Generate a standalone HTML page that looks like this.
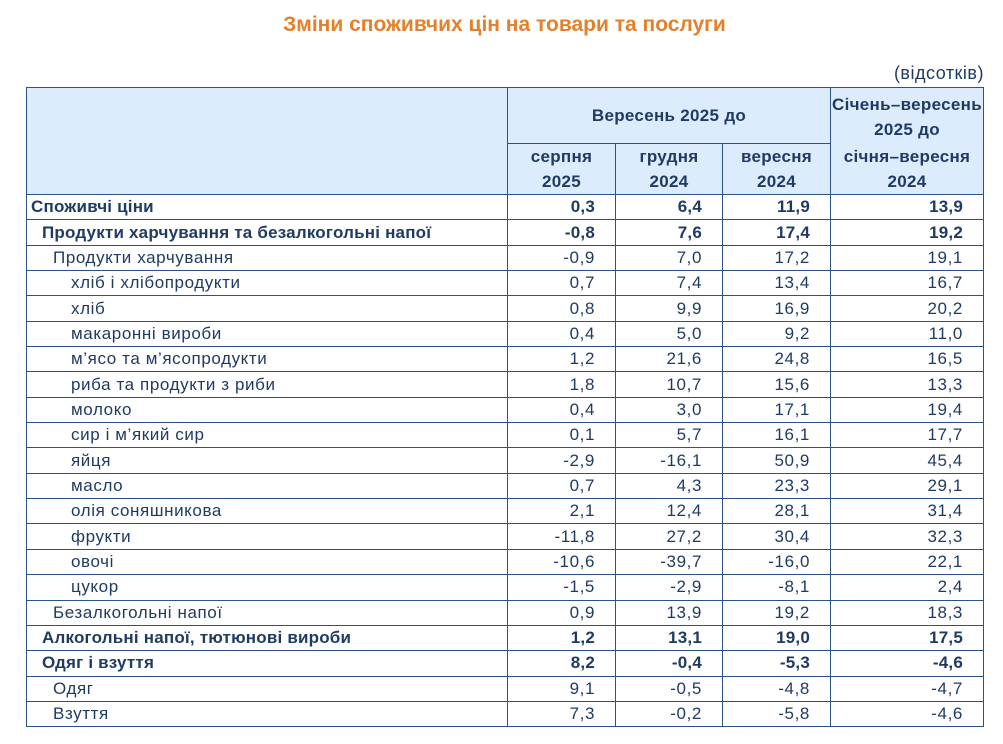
<!DOCTYPE html>
<html><head><meta charset="utf-8"><style>
body{margin:0;width:1003px;height:744px;background:#fff;font-family:"Liberation Sans",sans-serif;color:#1f3b63;position:relative;overflow:hidden}
.t{position:absolute;top:13px;left:3px;width:1003px;text-align:center;color:#e5802a;font-weight:bold;font-size:21px}
.u{position:absolute;top:63px;right:19px;font-size:18px;letter-spacing:0.5px}
table{position:absolute;left:26px;top:87px;border-collapse:collapse;table-layout:fixed;font-size:17px;letter-spacing:0.6px}
td{border:1.5px solid #2a5383;padding:0;white-space:nowrap;overflow:hidden}
thead td{background:#ddecfc;font-weight:bold;text-align:center;line-height:25px;letter-spacing:0.3px}
tbody td{height:24.35px;line-height:24px}
tbody td.n{text-align:right;padding-right:20px}
tbody tr.b td{font-weight:bold;letter-spacing:0.2px}
.l0{padding-left:4px}.l1{padding-left:15px}.l2{padding-left:26px}.l3{padding-left:44px}
</style></head><body>
<div class="t">Зміни споживчих цін на товари та послуги</div>
<div class="u">(відсотків)</div>
<table>
<colgroup><col style="width:481px"><col style="width:108px"><col style="width:107px"><col style="width:108px"><col style="width:153px"></colgroup>
<thead>
<tr><td rowspan="2"></td><td colspan="3" style="height:55px">Вересень 2025 до</td><td style="vertical-align:bottom;border-bottom:none;padding-bottom:2px">Січень–вересень<br>2025 до</td></tr>
<tr><td style="height:49px">серпня<br>2025</td><td>грудня<br>2024</td><td>вересня<br>2024</td><td style="border-top:none;vertical-align:top">січня–вересня<br>2024</td></tr>
</thead>
<tbody>
<tr class="b"><td class="l0">Споживчі ціни</td><td class="n">0,3</td><td class="n">6,4</td><td class="n">11,9</td><td class="n">13,9</td></tr>
<tr class="b"><td class="l1">Продукти харчування та безалкогольні напої</td><td class="n">-0,8</td><td class="n">7,6</td><td class="n">17,4</td><td class="n">19,2</td></tr>
<tr><td class="l2">Продукти харчування</td><td class="n">-0,9</td><td class="n">7,0</td><td class="n">17,2</td><td class="n">19,1</td></tr>
<tr><td class="l3">хліб і хлібопродукти</td><td class="n">0,7</td><td class="n">7,4</td><td class="n">13,4</td><td class="n">16,7</td></tr>
<tr><td class="l3">хліб</td><td class="n">0,8</td><td class="n">9,9</td><td class="n">16,9</td><td class="n">20,2</td></tr>
<tr><td class="l3">макаронні вироби</td><td class="n">0,4</td><td class="n">5,0</td><td class="n">9,2</td><td class="n">11,0</td></tr>
<tr><td class="l3">м’ясо та м’ясопродукти</td><td class="n">1,2</td><td class="n">21,6</td><td class="n">24,8</td><td class="n">16,5</td></tr>
<tr><td class="l3">риба та продукти з риби</td><td class="n">1,8</td><td class="n">10,7</td><td class="n">15,6</td><td class="n">13,3</td></tr>
<tr><td class="l3">молоко</td><td class="n">0,4</td><td class="n">3,0</td><td class="n">17,1</td><td class="n">19,4</td></tr>
<tr><td class="l3">сир і м’який сир</td><td class="n">0,1</td><td class="n">5,7</td><td class="n">16,1</td><td class="n">17,7</td></tr>
<tr><td class="l3">яйця</td><td class="n">-2,9</td><td class="n">-16,1</td><td class="n">50,9</td><td class="n">45,4</td></tr>
<tr><td class="l3">масло</td><td class="n">0,7</td><td class="n">4,3</td><td class="n">23,3</td><td class="n">29,1</td></tr>
<tr><td class="l3">олія соняшникова</td><td class="n">2,1</td><td class="n">12,4</td><td class="n">28,1</td><td class="n">31,4</td></tr>
<tr><td class="l3">фрукти</td><td class="n">-11,8</td><td class="n">27,2</td><td class="n">30,4</td><td class="n">32,3</td></tr>
<tr><td class="l3">овочі</td><td class="n">-10,6</td><td class="n">-39,7</td><td class="n">-16,0</td><td class="n">22,1</td></tr>
<tr><td class="l3">цукор</td><td class="n">-1,5</td><td class="n">-2,9</td><td class="n">-8,1</td><td class="n">2,4</td></tr>
<tr><td class="l2">Безалкогольні напої</td><td class="n">0,9</td><td class="n">13,9</td><td class="n">19,2</td><td class="n">18,3</td></tr>
<tr class="b"><td class="l1">Алкогольні напої, тютюнові вироби</td><td class="n">1,2</td><td class="n">13,1</td><td class="n">19,0</td><td class="n">17,5</td></tr>
<tr class="b"><td class="l1">Одяг і взуття</td><td class="n">8,2</td><td class="n">-0,4</td><td class="n">-5,3</td><td class="n">-4,6</td></tr>
<tr><td class="l2">Одяг</td><td class="n">9,1</td><td class="n">-0,5</td><td class="n">-4,8</td><td class="n">-4,7</td></tr>
<tr><td class="l2">Взуття</td><td class="n">7,3</td><td class="n">-0,2</td><td class="n">-5,8</td><td class="n">-4,6</td></tr>
</tbody></table>
</body></html>
